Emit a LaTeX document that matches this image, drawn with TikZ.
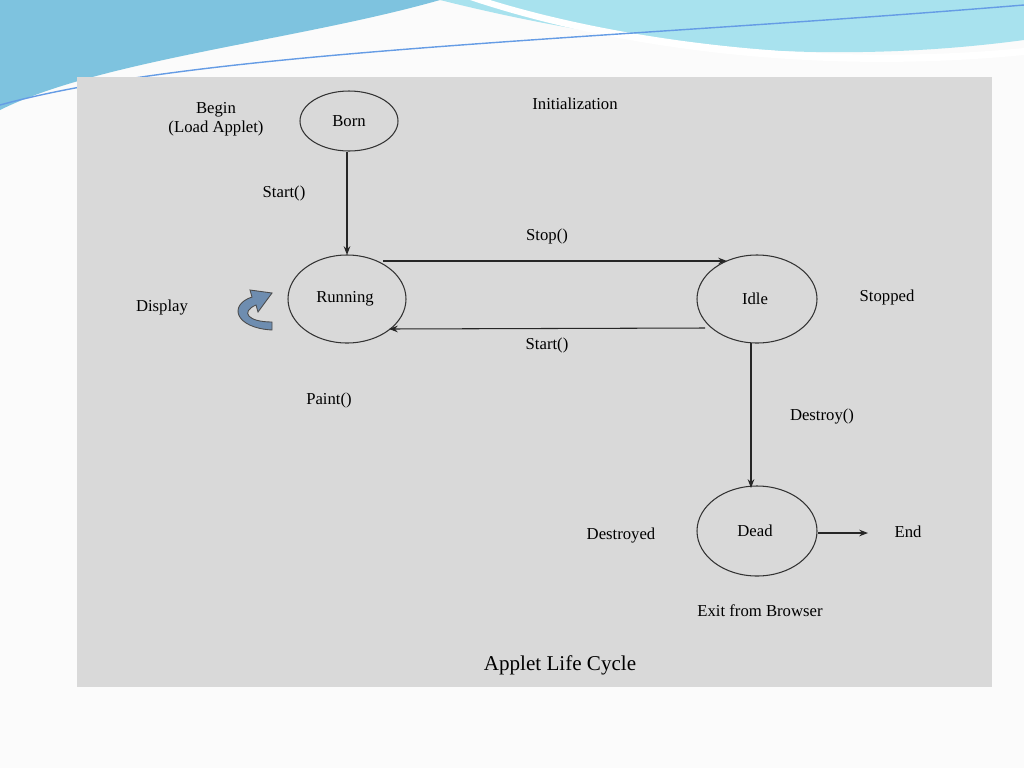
\documentclass[tikz,border=0pt]{standalone}
\usepackage{fontspec}
\setmainfont{Liberation Serif}
\usetikzlibrary{arrows.meta}
\definecolor{topA}{HTML}{7EC3DF}
\definecolor{topB}{HTML}{A8E2EE}
\definecolor{arrc}{HTML}{6E8DB0}
\begin{document}
\begin{tikzpicture}[x=0.02cm,y=-0.02cm,
  lbl/.style={font=\fontsize{9.5}{11}\selectfont,align=center},
  arr/.style={-{Stealth[length=5pt]},line width=0.6pt,black!85}]
\useasboundingbox (0,0) rectangle (1024,768);
\fill[white!97!gray] (0,0) rectangle (1024,768);
% top decoration
\fill[topA] (0,0) -- (440,0) .. controls (300,40) and (100,60) .. (0,110) -- cycle;
\fill[topB] (440,0) .. controls (600,40) and (800,70) .. (1024,40) -- (1024,0) -- cycle;
\fill[white] (470,0) .. controls (620,50) and (820,75) .. (1024,55) -- (1024,48) .. controls (820,68) and (620,40) .. (490,0) -- cycle;
\draw[topA!80!blue,line width=0.8pt] (0,105) .. controls (200,50) and (600,40) .. (1024,5);
\fill[gray!30] (77,77) rectangle (992,687);
\draw[black!80,line width=0.6pt] (349,121) ellipse [x radius=49,y radius=30];
\draw[black!80,line width=0.6pt] (347,299) ellipse [x radius=59,y radius=44];
\draw[black!80,line width=0.6pt] (757,299) ellipse [x radius=60,y radius=44];
\draw[black!80,line width=0.6pt] (757,531) ellipse [x radius=60,y radius=45];
\node[lbl] (bornt) at (349,121) {Born};
\node[lbl] (runt) at (345,299) {Running};
\node[lbl] (idlet) at (755,299) {Idle};
\node[lbl] (deadt) at (755,531) {Dead};
\coordinate (b1) at (347,152); \coordinate (r1) at (347,255);
\coordinate (r2) at (383,261); \coordinate (i2) at (727,261);
\coordinate (i3) at (705,328); \coordinate (r3) at (389,329);
\coordinate (i4) at (751,343); \coordinate (d4) at (751,488);
\coordinate (d5) at (818,533); \coordinate (e5) at (868,533);
\draw[arr] (b1) -- (r1);
\draw[arr] (r2) -- (i2);
\draw[arr] (i3) -- (r3);
\draw[arr] (i4) -- (d4);
\draw[arr] (d5) -- (e5);
\node[lbl] at (216,119) {Begin\\(Load Applet)};
\node[lbl] at (575,104) {Initialization};
\node[lbl] at (284,193) {Start()};
\node[lbl] at (547,236) {Stop()};
\node[lbl] at (547,345) {Start()};
\node[lbl] at (162,308) {Display};
\node[lbl] at (887,297) {Stopped};
\node[lbl] at (329,400) {Paint()};
\node[lbl] at (822,417) {Destroy()};
\node[lbl] at (621,536) {Destroyed};
\node[lbl] at (908,532) {End};
\node[lbl] at (760,611) {Exit from Browser};
\node[font=\fontsize{12}{14}\selectfont] at (560,665) {Applet Life Cycle};
% curved arrow
\fill[arrc,draw=black!70,line width=0.5pt] (272,330) .. controls (235,328) and (228,305) .. (252,297) -- (250,290) -- (272,293) -- (258,312) -- (256,305) .. controls (240,312) and (248,322) .. (272,322) -- cycle;
\end{tikzpicture}
\end{document}
